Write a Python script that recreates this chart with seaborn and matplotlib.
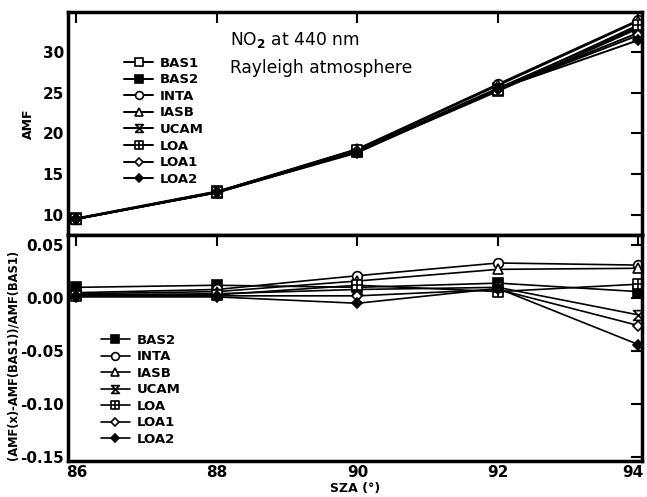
import numpy as np
import pandas as pd
import matplotlib
matplotlib.use("Agg")
import matplotlib.pyplot as plt
import matplotlib.transforms as mtransforms
from matplotlib.path import Path
import seaborn as sns

sza = [86, 88, 90, 92, 94]
series_top = ["BAS1", "BAS2", "INTA", "IASB", "UCAM", "LOA", "LOA1", "LOA2"]
series_bot = ["BAS2", "INTA", "IASB", "UCAM", "LOA", "LOA1", "LOA2"]

amf_BAS1 = [9.50, 12.75, 17.75, 25.20, 32.90]
amf_BAS2 = [9.60, 12.90, 17.90, 25.55, 33.05]
amf_INTA = [9.55, 12.85, 18.10, 26.05, 33.90]
amf_IASB = [9.54, 12.83, 18.05, 25.90, 33.80]
amf_UCAM = [9.53, 12.80, 17.90, 25.45, 32.35]
amf_LOA = [9.52, 12.79, 17.95, 25.35, 33.30]
amf_LOA1 = [9.52, 12.78, 17.80, 25.40, 32.05]
amf_LOA2 = [9.51, 12.77, 17.65, 25.45, 31.45]

rel_BAS2 = [0.010, 0.012, 0.010, 0.014, 0.006]
rel_INTA = [0.005, 0.008, 0.021, 0.033, 0.031]
rel_IASB = [0.004, 0.006, 0.016, 0.027, 0.028]
rel_UCAM = [0.003, 0.004, 0.008, 0.010, -0.016]
rel_LOA = [0.002, 0.003, 0.012, 0.006, 0.013]
rel_LOA1 = [0.002, 0.002, 0.002, 0.008, -0.026]
rel_LOA2 = [0.001, 0.001, -0.005, 0.009, -0.044]

top_vals = {"BAS1": amf_BAS1, "BAS2": amf_BAS2, "INTA": amf_INTA, "IASB": amf_IASB,
            "UCAM": amf_UCAM, "LOA": amf_LOA, "LOA1": amf_LOA1, "LOA2": amf_LOA2}
bot_vals = {"BAS2": rel_BAS2, "INTA": rel_INTA, "IASB": rel_IASB, "UCAM": rel_UCAM,
            "LOA": rel_LOA, "LOA1": rel_LOA1, "LOA2": rel_LOA2}

# custom markers
hourglass = Path([(-1, 1), (1, 1), (-1, -1), (1, -1), (-1, 1)],
                 [Path.MOVETO, Path.LINETO, Path.LINETO, Path.LINETO, Path.CLOSEPOLY])
boxplus = Path([(-1, -1), (1, -1), (1, 1), (-1, 1), (-1, -1),
                (0, -1), (0, 1), (-1, 0), (1, 0)],
               [Path.MOVETO, Path.LINETO, Path.LINETO, Path.LINETO, Path.CLOSEPOLY,
                Path.MOVETO, Path.LINETO, Path.MOVETO, Path.LINETO])

style = {
    "BAS1": dict(marker="s", mfc="white", ms=7),
    "BAS2": dict(marker="s", mfc="black", ms=7),
    "INTA": dict(marker="o", mfc="white", ms=7),
    "IASB": dict(marker="^", mfc="white", ms=7),
    "UCAM": dict(marker=hourglass, mfc="white", ms=7),
    "LOA": dict(marker=boxplus, mfc="white", ms=7),
    "LOA1": dict(marker="D", mfc="white", ms=5),
    "LOA2": dict(marker="D", mfc="black", ms=5),
}

sns.set_style("white")
plt.rcParams["font.family"] = ["DejaVu Sans"]
plt.rcParams["font.weight"] = "bold"
for k in ("text.color", "axes.labelcolor", "xtick.color", "ytick.color"):
    plt.rcParams[k] = "black"

W, H = 647, 497
fig = plt.figure(figsize=(W / 100, H / 100), dpi=100)
L, R = 68, 642
ax1 = fig.add_axes([L / W, 1 - 235 / H, (R - L) / W, (235 - 12) / H])
ax2 = fig.add_axes([L / W, 1 - 461 / H, (R - L) / W, (461 - 235) / H])

for name in series_top:
    st = style[name]
    sns.lineplot(x=sza, y=top_vals[name], ax=ax1, color="black", lw=1.4,
                 marker=st["marker"], markerfacecolor=st["mfc"], markeredgecolor="black",
                 markersize=st["ms"], markeredgewidth=1.2, label=name)
for name in series_bot:
    st = style[name]
    sns.lineplot(x=sza, y=bot_vals[name], ax=ax2, color="black", lw=1.2,
                 marker=st["marker"], markerfacecolor=st["mfc"], markeredgecolor="black",
                 markersize=st["ms"], markeredgewidth=1.2, label=name)

ax1.set_xlim(85.88, 94.05)
ax2.set_xlim(85.88, 94.05)
ax1.set_ylim(7.55, 34.9)
ax2.set_ylim(-0.1538, 0.0594)
ax1.set_yticks([10, 15, 20, 25, 30])
ax2.set_yticks([-0.15, -0.10, -0.05, 0.00, 0.05])
ax2.set_yticklabels(["-0.15", "-0.10", "-0.05", "0.00", "0.05"])
for ax in (ax1, ax2):
    ax.set_xticks(sza)
    ax.tick_params(direction="in", length=8, width=1.5, top=True, right=True,
                   labelsize=11, pad=3)
    for sp in ax.spines.values():
        sp.set_linewidth(2.5)
        sp.set_color("black")
    for lab in ax.get_yticklabels() + ax.get_xticklabels():
        lab.set_fontweight("bold")
ax1.tick_params(labelbottom=False)

# nudge the last x tick label so it stays inside the figure
last = ax2.get_xticklabels()[-1]
last.set_transform(last.get_transform() +
                   mtransforms.ScaledTranslation(-6 / 100, 0, fig.dpi_scale_trans))

ax1.set_ylabel("AMF", fontsize=9, fontweight="bold")
ax1.yaxis.set_label_coords(-0.058, 0.5)
ax2.set_ylabel("(AMF(x)-AMF(BAS1))/AMF(BAS1)", fontsize=8.3, fontweight="bold")
ax2.yaxis.set_label_coords(-0.085, 0.47)
ax2.set_xlabel("SZA (°)", fontsize=9, fontweight="bold", labelpad=1)

ax1.text(0.283, 0.875, "NO$_2$ at 440 nm", transform=ax1.transAxes, fontsize=12.3,
         fontweight="normal", va="center", ha="left")
ax1.text(0.283, 0.75, "Rayleigh atmosphere", transform=ax1.transAxes, fontsize=12.3,
         fontweight="normal", va="center", ha="left")

leg1 = ax1.legend(loc="center left", bbox_to_anchor=(0.098, 0.51), frameon=False,
                  fontsize=9.5, handlelength=2.2, handletextpad=0.5, labelspacing=0.27,
                  borderpad=0, borderaxespad=0, markerscale=0.8)
leg2 = ax2.legend(loc="center left", bbox_to_anchor=(0.057, 0.315), frameon=False,
                  fontsize=9.5, handlelength=2.2, handletextpad=0.5, labelspacing=0.27,
                  borderpad=0, borderaxespad=0, markerscale=0.8)
for leg in (leg1, leg2):
    for t in leg.get_texts():
        t.set_fontweight("bold")

fig.savefig("out.png", dpi=100)
